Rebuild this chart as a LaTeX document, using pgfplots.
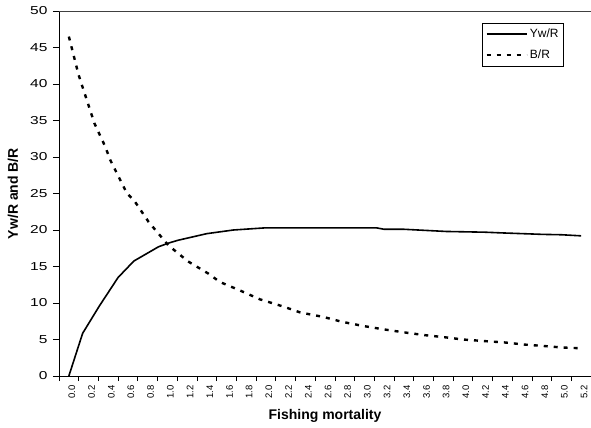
\documentclass[border=0pt]{standalone}
\usepackage{pgfplots}
\pgfplotsset{compat=1.18}
\usepackage{fontspec}
\setmainfont{Liberation Sans}
\newfontfamily\widefont[FakeStretch=1.35]{Liberation Sans}
\newcommand{\fs}[1]{\fontsize{#1}{1.2\dimexpr#1\relax}\selectfont}
\begin{document}
\begin{tikzpicture}
\useasboundingbox (-59bp,-52bp) rectangle (532bp,376bp);
\begin{axis}[
  at={(0,0)}, anchor=south west,
  scale only axis, width=532bp, height=365bp,
  xmin=-0.1, xmax=5.3, ymin=0, ymax=50,
  axis lines=left, axis line style={-, line width=0.7bp},
  /pgf/number format/assume math mode=true,
  xtick={0,0.2,0.4,0.6,0.8,1.0,1.2,1.4,1.6,1.8,2.0,2.2,2.4,2.6,2.8,3.0,3.2,3.4,3.6,3.8,4.0,4.2,4.4,4.6,4.8,5.0,5.2},
  minor xtick={-0.1,0.1,0.3,0.5,0.7,0.9,1.1,1.3,1.5,1.7,1.9,2.1,2.3,2.5,2.7,2.9,3.1,3.3,3.5,3.7,3.9,4.1,4.3,4.5,4.7,4.9,5.1,5.3},
  ytick={0,5,10,15,20,25,30,35,40,45,50},
  tick align=outside,
  major tick length=6bp,
  minor tick length=5bp,
  tick style={line width=0.7bp, black},
  major x tick style={draw=none},
  xticklabel style={rotate=90, anchor=east, yshift=-3bp, font=\fs{9.5bp},
    /pgf/number format/fixed, /pgf/number format/fixed zerofill, /pgf/number format/precision=1},
  yticklabel style={font=\widefont\fs{11.5bp}, xshift=-2bp},
  xlabel={\textbf{Fishing mortality}},
  ylabel={\textbf{Yw/R and B/R}},
  every axis x label/.style={at={(axis description cs:0.5,0)}, yshift=-40bp, anchor=center, font=\fs{14bp}},
  every axis y label/.style={at={(axis description cs:0,0.5)}, xshift=-46bp, rotate=90, anchor=center, font=\fs{14bp}},
  legend style={at={(axis description cs:0.949,0.968)}, anchor=north east, draw=black, line width=0.6bp,
    font=\fs{12bp}, inner xsep=3bp, inner ysep=4bp, row sep=7bp, legend cell align=left},
  legend image code/.code={\draw[#1] (0bp,0bp) -- (40bp,0bp);},
]
\draw[black!75, line width=0.7bp] (rel axis cs:0,1) -- (rel axis cs:1,1);
\addplot[black, line width=1.6bp, line join=round] coordinates {
(0,0) (0.14,5.85) (0.31,9.6) (0.5,13.5) (0.66,15.75) (0.91,17.7) (1.01,18.2) (1.11,18.6)
(1.4,19.5) (1.67,20.0) (2.0,20.3) (3.12,20.3) (3.2,20.1) (3.4,20.1) (3.83,19.8) (4.22,19.7)
(4.4,19.6) (4.81,19.4) (5.0,19.35) (5.2,19.2)
};
\addlegendentry{Yw/R}
\addplot[black, line width=2.4bp, dash pattern=on 4bp off 6bp] coordinates {
(0,46.5) (0.1,41.2) (0.26,34.6) (0.37,31.4) (0.42,29.6) (0.59,25.0) (0.66,24.1) (0.81,21.1)
(0.91,19.5) (1.01,17.9) (1.11,16.8) (1.21,15.7) (1.42,14.0) (1.53,12.9) (1.74,11.7) (1.94,10.5)
(2.18,9.5) (2.35,8.7) (2.58,8.1) (2.78,7.4) (2.99,6.85) (3.19,6.4) (3.39,6.0) (3.61,5.6)
(3.82,5.3) (4.0,5.0) (4.2,4.8) (4.42,4.6) (4.63,4.3) (4.83,4.1) (5.01,3.9) (5.2,3.8)
};
\addlegendentry{B/R}
\end{axis}
\end{tikzpicture}
\end{document}
